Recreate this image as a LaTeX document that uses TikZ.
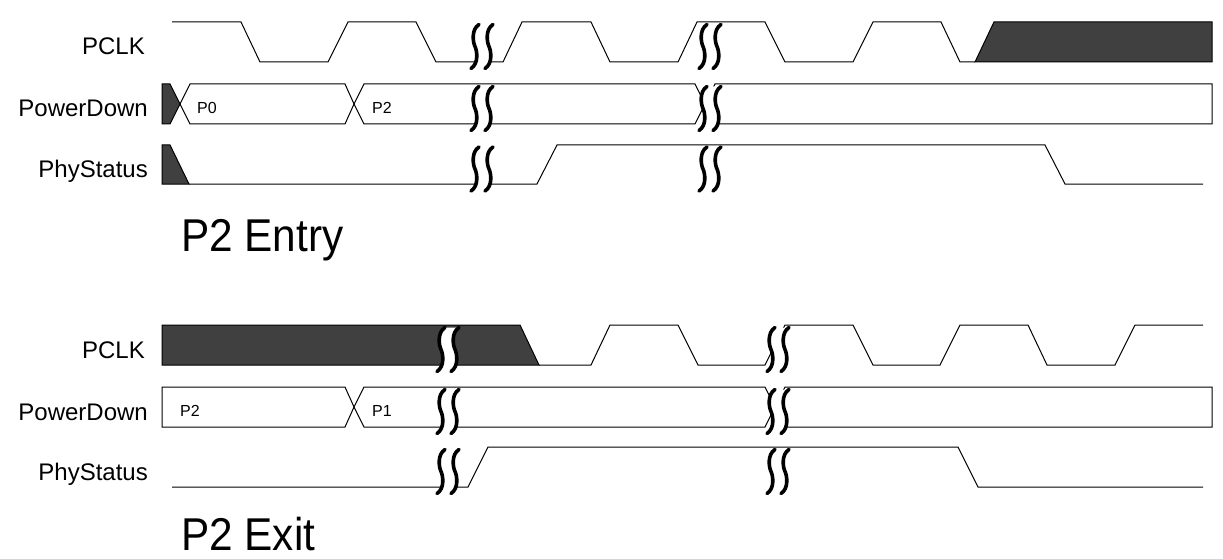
\documentclass[tikz,border=0pt]{standalone}
\usepackage{fontspec}
\setmainfont{Liberation Sans}
\definecolor{shade}{HTML}{404040}
\tikzset{
  sig/.style={line width=1pt, line join=miter},
  unk/.style={draw=black, line width=1pt, fill=shade},
  lbl/.style={anchor=base east, inner sep=0pt, font=\fontsize{24}{24}\selectfont},
  val/.style={anchor=base west, inner sep=0pt, font=\fontsize{16}{16}\selectfont},
  title/.style={anchor=base west, inner sep=0pt, xscale=0.92, font=\fontsize{46}{46}\selectfont}
}
% break mark: #1 = x of left stroke, #2 = y centre
\newcommand{\gapmark}[2]{%
  \fill[white] (#1+4,#2-22) .. controls (#1-3,#2-16) and (#1-2,#2-4) .. (#1,#2)
    .. controls (#1+2,#2+4) and (#1+3,#2+16) .. (#1-4,#2+22) -- (#1+10,#2+22)
    .. controls (#1+17,#2+16) and (#1+16,#2+4) .. (#1+14,#2)
    .. controls (#1+12,#2-4) and (#1+11,#2-16) .. (#1+18,#2-22) -- cycle;
  \foreach \dx in {0,14}
    \draw[line width=3.6pt, line cap=round] (#1+\dx+4,#2-22) .. controls (#1+\dx-4,#2-17) and (#1+\dx-2,#2-4) .. (#1+\dx,#2)
      .. controls (#1+\dx+2,#2+4) and (#1+\dx+4,#2+17) .. (#1+\dx-4,#2+22);
}
\begin{document}
\begin{tikzpicture}[x=1pt, y=-1pt]
\useasboundingbox (0,0) rectangle (1223,559);

% ---- P2 entry ----
\node[lbl] (clkA) at (145,55) {PCLK};
\node[lbl] (pdA) at (148,117) {PowerDown};
\node[lbl] (psA) at (148,177.5) {PhyStatus};

\draw[sig] (172,22) -- (241,22) -- (260,62) -- (328,62) -- (348,22) -- (416,22) -- (436,62)
  -- (503,62) -- (522,22) -- (591,22) -- (610,62) -- (678,62) -- (697,22) -- (765,22)
  -- (785,62) -- (853,62) -- (873,22) -- (941,22) -- (960,62) -- (975,62);
\draw[unk] (975,62) -- (994,22) -- (1212,22) -- (1212,62) -- cycle;

\draw[unk] (162,84) -- (170,84) -- (180,104) -- (170,124) -- (162,124) -- cycle;
\draw[sig] (180,104) -- (190,84) -- (345,84) -- (354,104) -- (345,124) -- (190,124) -- cycle;
\draw[sig] (354,104) -- (364,84) -- (695,84) -- (705,104) -- (695,124) -- (364,124) -- cycle;
\draw[sig] (705,104) -- (715,84) -- (1212,84) -- (1212,124) -- (715,124) -- cycle;
\node[val] (pdA0) at (197,113.5) {P0};
\node[val] (pdA2) at (372,113.5) {P2};

\draw[unk] (162,145) -- (170,145) -- (189,184) -- (162,184) -- cycle;
\draw[sig] (189,184) -- (537,184) -- (557,145) -- (1045,145) -- (1065,184) -- (1203,184);

\foreach \y in {46.5,108.5,169} {
  \gapmark{475}{\y}
  \gapmark{703}{\y}
}
\node[title] (entry) at (181,251.5) {P2 Entry};

% ---- P2 exit ----
\node[lbl] (clkB) at (145,358) {PCLK};
\node[lbl] (pdB) at (148,420) {PowerDown};
\node[lbl] (psB) at (148,480.5) {PhyStatus};

\draw[unk] (162,325) -- (520,325) -- (539,365) -- (162,365) -- cycle;
\draw[sig] (539,365) -- (591,365) -- (610,325) -- (678,325) -- (698,365) -- (765,365)
  -- (785,325) -- (853,325) -- (873,365) -- (940,365) -- (960,325) -- (1028,325)
  -- (1047,365) -- (1115,365) -- (1135,325) -- (1203,325);

\draw[sig] (162,387) -- (345,387) -- (354,407) -- (345,427) -- (162,427) -- cycle;
\draw[sig] (354,407) -- (364,387) -- (765,387) -- (775,407) -- (765,427) -- (364,427) -- cycle;
\draw[sig] (775,407) -- (785,387) -- (1212,387) -- (1212,427) -- (785,427) -- cycle;
\node[val] (pdB2) at (180,416.5) {P2};
\node[val] (pdB1) at (372,416.5) {P1};

\draw[sig] (172,487) -- (468,487) -- (488,447) -- (958,447) -- (978,487) -- (1203,487);

\foreach \y in {349.5,411.5,471.5} {
  \gapmark{441}{\y}
  \gapmark{771}{\y}
}
\node[title] (exit) at (181,550) {P2 Exit};
\end{tikzpicture}
\end{document}
